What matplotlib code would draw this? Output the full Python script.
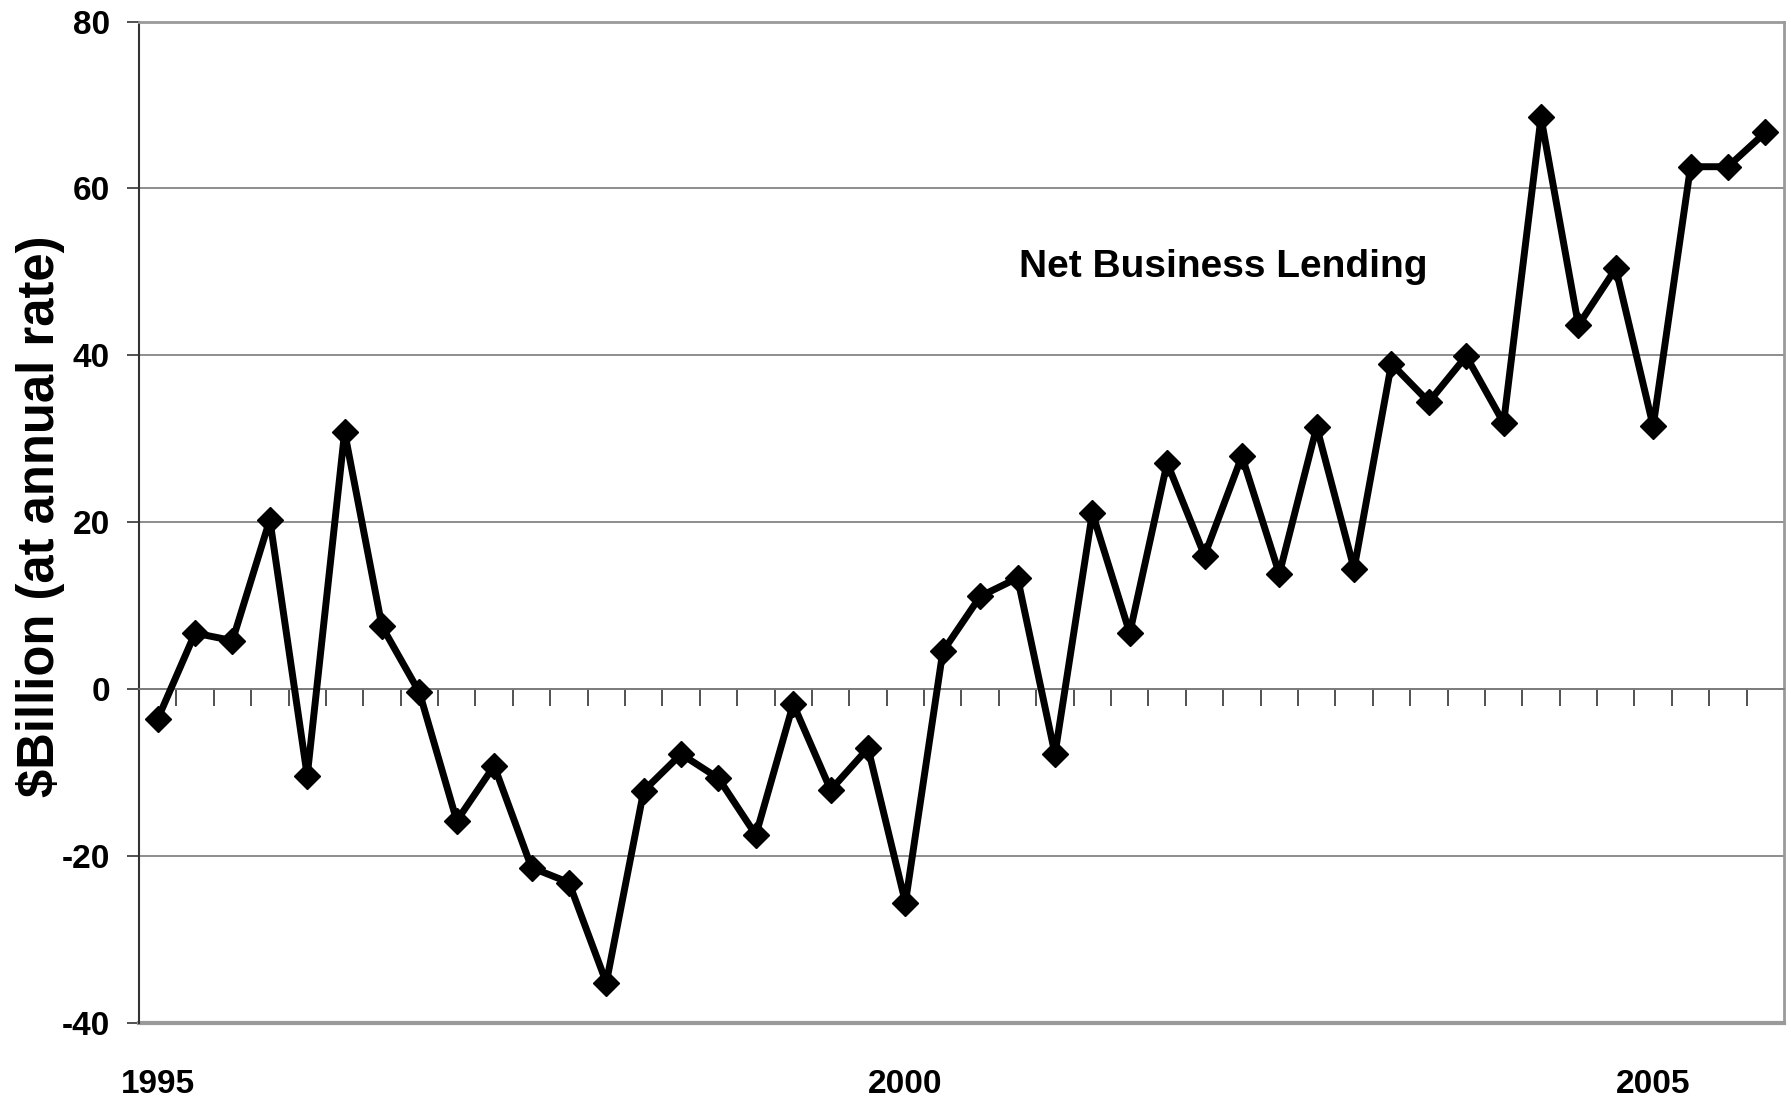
import matplotlib.pyplot as plt
import matplotlib.transforms as mtransforms
import numpy as np

# quarterly data, 1995Q1 - 2005Q4
quarters = [f"{y}Q{q}" for y in range(1995, 2006) for q in range(1, 5)]
lending = [-3.6, 6.7, 5.8, 20.3, -10.4, 30.8, 7.5, -0.4,
           -15.8, -9.2, -21.4, -23.2, -35.2, -12.2, -7.8, -10.7,
           -17.5, -1.8, -12.1, -7.1, -25.6, 4.5, 11.1, 13.3,
           -7.8, 21.1, 6.7, 27.1, 16.0, 27.9, 13.8, 31.4,
           14.4, 39.0, 34.4, 39.9, 31.9, 68.5, 43.6, 50.4,
           31.5, 62.6, 62.6, 66.7]
year_labels = ["1995", "2000", "2005"]
yticks = [-40, -20, 0, 20, 40, 60, 80]

narrow = ["Liberation Sans Narrow", "Liberation Sans", "DejaVu Sans"]

fig = plt.figure(figsize=(17.91, 11.04), dpi=100)
ax = fig.add_axes([0.0776, 0.0736, 0.9185, 0.9069])

x = np.arange(len(lending))
ax.plot(x, lending, color="black", lw=5, marker="D", markersize=13,
        solid_joinstyle="round", zorder=3)

ax.set_xlim(-0.5, len(lending) - 0.5)
ax.set_ylim(-40, 80)
ax.set_yticks(yticks)
ax.set_yticklabels([str(v) for v in yticks], family=narrow, weight="bold", fontsize=24)
ax.yaxis.grid(True, color="#7a7a7a", lw=1.2)
ax.set_axisbelow(True)
ax.tick_params(axis="y", direction="out", length=9, width=1.2, color="#333333", pad=12)

# category axis crossing at zero
ax.spines["bottom"].set_position(("data", 0))
ax.spines["bottom"].set_color("#7a7a7a")
ax.spines["bottom"].set_linewidth(1.2)
ax.set_xticks(np.arange(0.5, len(lending) - 0.5, 1))
ax.tick_params(axis="x", direction="out", length=12, width=1.2, color="#333333",
               labelbottom=False)
ax.spines["left"].set_color("#333333")
ax.spines["left"].set_linewidth(1.5)
ax.spines["top"].set_color("#9a9a9a")
ax.spines["top"].set_linewidth(2)
ax.spines["right"].set_color("#9a9a9a")
ax.spines["right"].set_linewidth(2)
ax.axhline(-40, color="#9a9a9a", lw=3, clip_on=False)

trans = mtransforms.blended_transform_factory(ax.transData, ax.transAxes)
for lab in year_labels:
    i = quarters.index(lab + "Q1")
    ax.text(i, -0.062, lab, transform=trans, ha="center", va="center",
            family=narrow, weight="bold", fontsize=24)

ax.text(28.5, 50.6, "Net Business Lending", ha="center", va="center",
        family=narrow, weight="bold", fontsize=28)

fig.text(0.0225, 0.532, "$Billion (at annual rate)", rotation=90, ha="center", va="center",
         family=["Liberation Sans", "DejaVu Sans"], weight="bold", fontsize=36.5)

fig.savefig("out.png", dpi=100)
